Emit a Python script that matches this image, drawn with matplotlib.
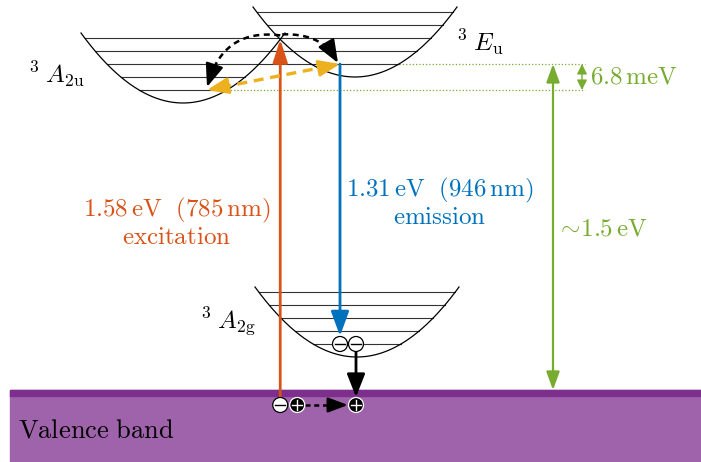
import numpy as np
import matplotlib.pyplot as plt
from matplotlib.patches import Rectangle, Circle

plt.rcParams['mathtext.fontset'] = 'cm'

# colours
c_exc = '#D95319'
c_emi = '#0072BD'
c_isc = '#EDB120'
c_en = '#77AC30'
c_vb = '#7E2F8E'
c_vb_fill = '#9E63AA'

# potential wells: 3A2u, 3Eu, 3A2g
well_labels = [r'${}^{3}\;A_{2\mathrm{u}}$', r'${}^{3}\;E_{\mathrm{u}}$', r'${}^{3}\;A_{2\mathrm{g}}$']
well_x = [183, 355, 357]
well_y = [103, 77, 357]
well_depth = 70
well_halfwidth = 102
n_levels = 5
level_gap = 13

valence_top = 390
emission_x = 340
isc_x = 207
energy_x = 553
split_x = 582
split_label = r'$6.8\,\mathrm{meV}$'
gap_label = r'$\sim\!1.5\,\mathrm{eV}$'
exc_label = r'$1.58\,\mathrm{eV}\ \ (785\,\mathrm{nm})$' + '\n' + r'$\mathrm{excitation}$'
emi_label = r'$1.31\,\mathrm{eV}\ \ (946\,\mathrm{nm})$' + '\n' + r'$\mathrm{emission}$'

a = well_depth / well_halfwidth**2
fs = 18

fig = plt.figure(figsize=(7.01, 4.62), dpi=100)
ax = fig.add_axes([0, 0, 1, 1])
ax.set_xlim(0, 701)
ax.set_ylim(462, 0)
ax.axis('off')


def arrow(x0, y0, x1, y1, color, lw, hl, hw, both=False, z=5):
    st = '<|-|>' if both else '-|>'
    ax.annotate('', xy=(x1, y1), xytext=(x0, y0),
                arrowprops=dict(arrowstyle=f'{st},head_length={hl},head_width={hw}',
                                color=color, lw=lw, shrinkA=0, shrinkB=0,
                                mutation_scale=10), zorder=z)


# wells; levels shared by overlapping wells are drawn as one line
segments = {}
for cx, by in zip(well_x, well_y):
    xs = np.linspace(cx - well_halfwidth, cx + well_halfwidth, 300)
    ax.plot(xs, by - a * (xs - cx)**2, color='black', lw=0.9, zorder=3)
    for k in range(1, n_levels + 1):
        hw = np.sqrt(level_gap * k / a)
        y = by - level_gap * k
        l, r = segments.get(y, (np.inf, -np.inf))
        segments[y] = (min(l, cx - hw), max(r, cx + hw))
for y, (l, r) in segments.items():
    ax.plot([l, r], [y, y], color='#333333', lw=0.8, zorder=2)

# crossing of the two upper wells
c1, c2 = well_x[0], well_x[1]
b1, b2 = well_y[0], well_y[1]
xc = (c1 + c2) / 2 + (b1 - b2) / (2 * a * (c2 - c1))
yc = b2 - a * (xc - c2)**2

# lowest levels
y_a2u = well_y[0] - level_gap
y_eu = well_y[1] - level_gap
y_a2g = well_y[2] - level_gap
r_a2u = well_x[0] + np.sqrt(level_gap / a)
r_eu = well_x[1] + np.sqrt(level_gap / a)

# valence band
ax.add_patch(Rectangle((10, valence_top), 701, 462 - valence_top, color=c_vb_fill, zorder=1))
ax.add_patch(Rectangle((10, valence_top), 701, 6, color=c_vb, zorder=1))
ax.text(18, 430, r'$\mathrm{Valence\ band}$', fontsize=19, va='center', ha='left')

# excitation / emission
hole_y = 405
arrow(xc, hole_y - 7, xc, yc, c_exc, 2.0, 1.4, 0.45)
arrow(emission_x, y_eu, emission_x, y_a2g - 8, c_emi, 2.0, 1.5, 0.55)


# dashed curves from the crossing
def dashed_curve(p0, p1, p2, color, lw):
    t = np.linspace(0, 1, 100)[:, None]
    pts = (1 - t)**2 * np.array(p0) + 2 * t * (1 - t) * np.array(p1) + t**2 * np.array(p2)
    ax.plot(pts[:-12, 0], pts[:-12, 1], color=color, lw=lw, ls=(0, (2.4, 1.8)), zorder=6)
    arrow(pts[-16, 0], pts[-16, 1], pts[-1, 0], pts[-1, 1], color, lw, 1.4, 0.55, z=6)


dashed_curve((xc, yc - 4), (222, 28), (isc_x, y_a2u - 3), 'black', 1.8)
dashed_curve((xc + 2, yc - 5), (324, 33), (emission_x - 2, y_eu - 1), 'black', 1.8)

# intersystem crossing between lowest levels
ax.plot([isc_x + 14, emission_x - 14], [y_a2u - 2.7, y_eu + 2.7], color=c_isc, lw=2.4,
        ls=(0, (3, 2)), zorder=6)
arrow(isc_x + 15, y_a2u - 3, isc_x, y_a2u, c_isc, 2.0, 1.3, 0.5, z=6)
arrow(emission_x - 15, y_eu + 3, emission_x, y_eu, c_isc, 2.0, 1.3, 0.5, z=6)

# energy scale
ax.plot([r_eu, 585], [y_eu, y_eu], color=c_en, lw=0.9, ls=':', zorder=2)
ax.plot([r_a2u, 585], [y_a2u, y_a2u], color=c_en, lw=0.9, ls=':', zorder=2)
arrow(energy_x, y_eu, energy_x, valence_top, c_en, 1.6, 1.1, 0.4, both=True)
arrow(split_x, y_eu, split_x, y_a2u, c_en, 1.0, 0.6, 0.3, both=True)
ax.text(590, (y_eu + y_a2u) / 2, split_label, color=c_en, fontsize=fs, va='center', ha='left')
ax.text(556, 228, gap_label, color=c_en, fontsize=fs, va='center', ha='left')

# labels
ax.text(177, 222, exc_label, color=c_exc, fontsize=fs, ha='center', va='center',
        multialignment='center', linespacing=1.0)
ax.text(440, 202, emi_label, color=c_emi, fontsize=fs, ha='center', va='center',
        multialignment='center', linespacing=1.0)
ax.text(28, 74, well_labels[0], fontsize=fs, ha='left', va='center')
ax.text(456, 42, well_labels[1], fontsize=fs, ha='left', va='center')
ax.text(200, 322, well_labels[2], fontsize=fs, ha='left', va='center')


# carriers
def carrier(x, y, sign):
    fc, sc = ('white', 'black') if sign == '-' else ('black', 'white')
    ax.add_patch(Circle((x, y), 7.5, fc=fc, ec='black' if sign == '-' else 'white', lw=0.9, zorder=8))
    ax.plot([x - 5, x + 5], [y, y], color=sc, lw=1.0, zorder=9)
    if sign == '+':
        ax.plot([x, x], [y - 5, y + 5], color=sc, lw=1.0, zorder=9)


carrier(emission_x, y_a2g, '-')
carrier(emission_x + 16, y_a2g, '-')
hole_x = emission_x + 16
arrow(hole_x, y_a2g + 7, hole_x, hole_y - 8, 'black', 2.0, 1.4, 0.55)
carrier(xc, hole_y, '-')
carrier(xc + 17, hole_y, '+')
ax.plot([xc + 25, hole_x - 17], [hole_y, hole_y], color='black', lw=1.8, ls=(0, (2, 1.5)), zorder=7)
arrow(hole_x - 18, hole_y, hole_x - 8, hole_y, 'black', 1.8, 1.2, 0.45, z=7)
carrier(hole_x, hole_y, '+')

fig.savefig('out.png', dpi=100)
